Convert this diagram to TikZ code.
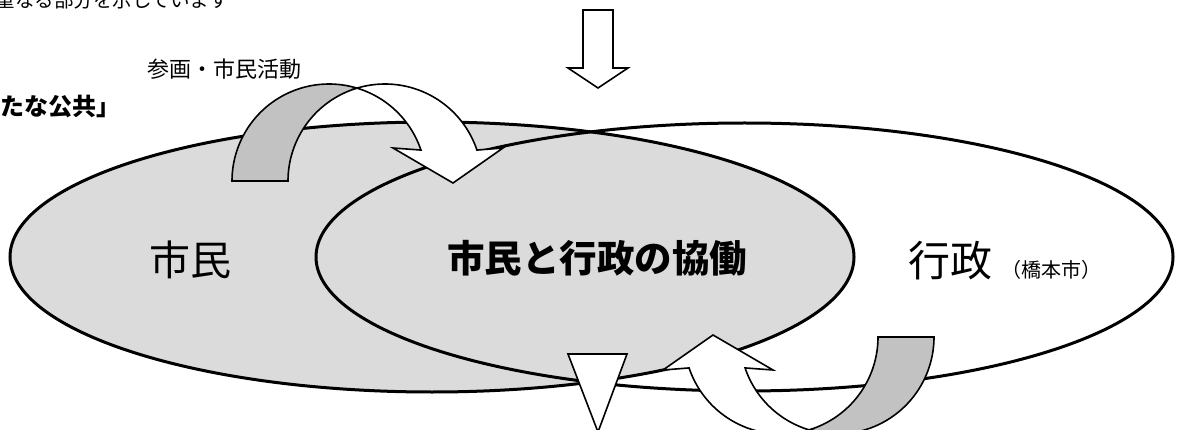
\documentclass[tikz,border=0pt]{standalone}
\usepackage{fontspec}
\newfontfamily\jp{Noto Sans CJK JP}
\definecolor{ellgray}{gray}{0.86}
\definecolor{bandgray}{gray}{0.76}
\newcommand{\mycurvedarrow}{%
  \filldraw[arr,fill=bandgray]
    plot[domain=-180:-73.2,samples=50] ({329+97*cos(\x)},{181+97*sin(\x)})
    -- plot[domain=-106.8:-180,samples=50] ({385+97*cos(\x)},{181+97*sin(\x)})
    -- cycle;
  \filldraw[arr,fill=white]
    plot[domain=-106.8:-18.6,samples=50] ({385+97*cos(\x)},{181+97*sin(\x)})
    -- (503,148) -- (453,183) -- (393,148)
    -- plot[domain=-18.6:-73.2,samples=40] ({329+97*cos(\x)},{181+97*sin(\x)})
    -- cycle;
}
\begin{document}
\begin{tikzpicture}[x=1pt,y=-1pt,
  ell/.style={line width=3pt},
  arr/.style={draw=black,line width=1.6pt,line join=miter},
  lbl/.style={inner sep=0pt,outer sep=0pt}]
\useasboundingbox (0,0) rectangle (1185,430);
\fill[white] (0,0) rectangle (1185,430);
% ellipses
\fill[ellgray] (432,257) ellipse [x radius=422, y radius=135];
\draw[ell] (744.5,257) ellipse [x radius=428.5, y radius=134];
\draw[ell] (432,257) ellipse [x radius=422, y radius=135];
% curved arrows
\mycurvedarrow
\begin{scope}[rotate around={180:(583,259)}]
\mycurvedarrow
\end{scope}
% top block arrow
\filldraw[arr,fill=white] (583,10) -- (613,10) -- (613,68) -- (628,68) -- (598,88) -- (568,68) -- (583,68) -- cycle;
% bottom triangle
\filldraw[arr,fill=white] (568,354) -- (627,354) -- (598,432) -- cycle;
% texts
\node[lbl,anchor=base west,font={\jp\fontsize{19.5}{20}\selectfont}] (note) at (-4.5,8) {重なる部分を示しています};
\node[lbl,anchor=west,font={\jp\bfseries\fontsize{24}{26}\selectfont}] (newpub) at (0,107) {たな公共」};
\node[lbl,font={\jp\fontsize{22}{24}\selectfont}] (sankaku) at (224.5,69) {参画・市民活動};
\node[lbl,font={\jp\fontsize{41}{44}\selectfont}] (shimin) at (190,259.5) {市民};
\node[lbl,font={\jp\bfseries\fontsize{37.5}{40}\selectfont}] (kyodo) at (597,258) {市民と行政の協働};
\node[lbl,font={\jp\fontsize{42}{44}\selectfont}] (gyosei) at (950,260.5) {行政};
\node[lbl,font={\jp\fontsize{20}{22}\selectfont}] (hashimoto) at (1051,269.5) {（橋本市）};
\end{tikzpicture}
\end{document}
